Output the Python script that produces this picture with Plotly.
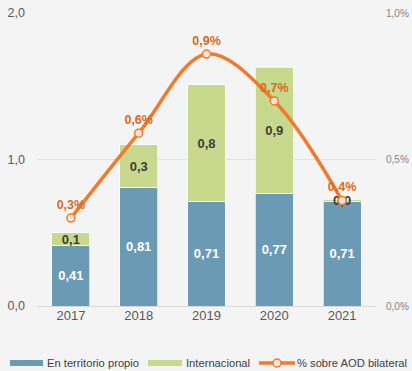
import plotly.graph_objects as go

# Data
years = ["2017", "2018", "2019", "2020", "2021"]
territorio = [0.41, 0.81, 0.71, 0.77, 0.71]
internacional = [0.09, 0.29, 0.80, 0.86, 0.02]
pct_aod = [0.30, 0.59, 0.86, 0.70, 0.36]
pct_ticks = [0, 0.5, 1.0]
pct_tick_labels = ["0,0%", "0,5%", "1,0%"]

BLUE = "#6b9ab4"
GREEN = "#c8d98e"
ORANGE = "#ef7b2d"
ORANGE_TXT = "#dc6a20"
BG = "#f4f4f4"
FONT = "Liberation Sans, Arial, sans-serif"

W, H = 412, 371
L, R, T, B = 37, 36, 13, 65
PW, PH = W - L - R, H - T - B


def px(x):
    return (x - L) / PW


def py(y):
    return (H - B - y) / PH


fig = go.Figure()

fig.add_trace(go.Bar(
    x=years, y=territorio, name="En territorio propio",
    marker=dict(color=BLUE, line=dict(color="rgba(255,255,255,0.7)", width=1)),
    texttemplate="%{y:.2f}", textposition="inside", insidetextanchor="middle",
    textfont=dict(color="white", size=13, family=FONT, weight="bold"),
    showlegend=False,
))
fig.add_trace(go.Bar(
    x=years, y=internacional, name="Internacional",
    marker=dict(color=GREEN, line=dict(color="rgba(255,255,255,0.7)", width=1)),
    texttemplate="%{y:.1f}", textposition="inside", insidetextanchor="middle",
    textfont=dict(color="#3d3d3d", size=13, family=FONT, weight="bold"),
    showlegend=False,
))
fig.add_trace(go.Scatter(
    x=years, y=pct_aod, name="% sobre AOD bilateral", yaxis="y2",
    mode="lines+markers+text",
    line=dict(color=ORANGE, width=3.5, shape="spline", smoothing=1.0),
    marker=dict(size=8, color="#fde6d8", line=dict(color=ORANGE, width=1.5)),
    texttemplate="%{y:.1f}%", textposition="top center",
    textfont=dict(color=ORANGE_TXT, size=12.5, family=FONT, weight="bold"),
    showlegend=False,
))

fig.update_layout(
    width=W, height=H,
    margin=dict(l=L, r=R, t=T, b=B, autoexpand=False),
    paper_bgcolor=BG, plot_bgcolor=BG,
    barmode="stack", bargap=0.44,
    separators=",.",
    font=dict(family=FONT, color="#595959", size=12.5),
    uniformtext=dict(minsize=13, mode="show"),
    xaxis=dict(type="category", showgrid=False, showline=False, ticks="",
               automargin=False, tickfont=dict(size=13, color="#595959")),
    yaxis=dict(range=[0, 2.0], tickvals=[0, 1.0, 2.0], tickformat=".1f",
               showgrid=True, gridcolor="#e1e1e1", gridwidth=1,
               zeroline=True, zerolinecolor="#d9d9d9", zerolinewidth=1,
               ticks="", ticklabelstandoff=11, automargin=False,
               tickfont=dict(size=12.5, color="#595959")),
    yaxis2=dict(range=[0, 1.0], tickmode="array", tickvals=pct_ticks,
                ticktext=pct_tick_labels, overlaying="y", side="right",
                showgrid=False, zeroline=False, ticks="", ticklabelstandoff=9,
                automargin=False, tickfont=dict(size=10, color="#858585")),
)

# Legend drawn along the bottom
LEG_Y = 363
LEG_SIZE = 11.2
shapes = []
annotations = []


def swatch(x0, x1, color):
    shapes.append(dict(type="rect", xref="paper", yref="paper",
                       x0=px(x0), x1=px(x1), y0=py(LEG_Y + 3), y1=py(LEG_Y - 3),
                       fillcolor=color, line=dict(width=0), layer="above"))


def label(x, text):
    annotations.append(dict(xref="paper", yref="paper", x=px(x), y=py(LEG_Y),
                            xanchor="left", yanchor="middle", showarrow=False,
                            text=text, font=dict(size=LEG_SIZE, color="#404040", family=FONT)))


swatch(10, 43, BLUE)
label(45, "En territorio propio")
swatch(148, 182, GREEN)
label(184, "Internacional")
shapes.append(dict(type="line", xref="paper", yref="paper",
                   x0=px(259), x1=px(295), y0=py(LEG_Y), y1=py(LEG_Y),
                   line=dict(color=ORANGE, width=3.5)))
shapes.append(dict(type="circle", xref="paper", yref="paper",
                   x0=px(273), x1=px(281), y0=py(LEG_Y + 4), y1=py(LEG_Y - 4),
                   fillcolor="#fde6d8", line=dict(color=ORANGE, width=1.5)))
label(295, "% sobre AOD bilateral")

fig.update_layout(shapes=shapes, annotations=annotations)

fig.write_html("out.html")
